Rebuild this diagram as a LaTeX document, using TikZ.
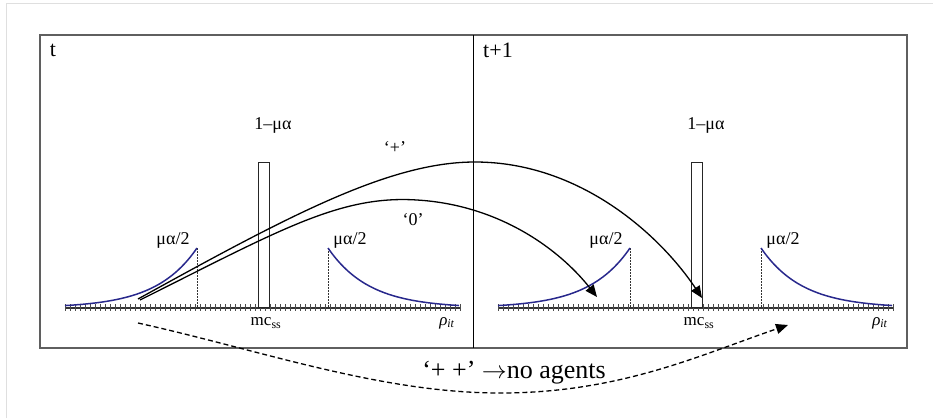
\documentclass[tikz,border=0pt]{standalone}
\usepackage{fontspec}
\setmainfont{Liberation Serif}
\usetikzlibrary{arrows.meta}
\definecolor{curveblue}{RGB}{40,40,140}
\definecolor{framegray}{RGB}{95,95,95}
\tikzset{
  framebox/.style={draw=framegray,line width=1.5pt},
  axisline/.style={draw=black!80,line width=1.4pt},
  tickmark/.style={draw=black!70,line width=0.7pt},
  distcurve/.style={draw=curveblue,line width=1.5pt},
  guide/.style={draw=black!80,line width=0.8pt,dash pattern=on 1.5pt off 1.5pt},
  barbox/.style={draw=black!85,line width=1pt,fill=white},
  flow/.style={draw=black,line width=1.3pt,-{Triangle[length=12pt,width=10pt]}},
  flowdash/.style={draw=black,line width=1.3pt,dash pattern=on 5pt off 3pt,-{Triangle[length=12pt,width=10pt]}},
  lbl/.style={font=\fontsize{18}{20}\selectfont,inner sep=0pt},
  tlbl/.style={font=\fontsize{22}{24}\selectfont,inner sep=0pt},
  axlbl/.style={font=\fontsize{17}{19}\selectfont,inner sep=0pt},
  biglbl/.style={font=\fontsize{26}{28}\selectfont,inner sep=0pt}
}
\begin{document}
\begin{tikzpicture}[x=1pt,y=-1pt]
\useasboundingbox (0,0) rectangle (933,418);
% faint outer border
\draw[gray!25,line width=1pt] (6,418) -- (6,3) -- (933,3);
% frame and divider
\draw[framebox] (40,35) rectangle (907,348);
\draw[black,line width=1pt] (473,35) -- (473,348);
\node[tlbl] (tl) at (53,50) {t};
\node[tlbl] (tr) at (498,50) {t+1};
% panels
\foreach \o/\p in {0/L,433/R}{
\begin{scope}[xshift=\o pt]
  \draw[axisline] (65,308) -- (461,308);
  \foreach \k in {0,...,79}{
    \draw[tickmark] ({65+5*\k},304) -- ({65+5*\k},311);
  }
  \draw[guide] (197,248) -- (197,308);
  \draw[guide] (328,248) -- (328,308);
  \draw[distcurve] plot[domain=65:197,samples=60,smooth] (\x,{308-60*exp(0.0243*(\x-197))});
  \draw[distcurve] plot[domain=328:459,samples=60,smooth] (\x,{308-60*exp(-0.0243*(\x-328))});
  \node[barbox,minimum width=11pt,minimum height=145pt,anchor=south,inner sep=0pt] (bar\p) at (263.5,308) {};
  \node[lbl] (top\p) at (273,125) {1–μα};
  \node[lbl] (ml\p) at (173,240) {μα/2};
  \node[lbl] (mr\p) at (350,240) {μα/2};
  \node[axlbl] (mc\p) at (266,323) {mc\textsubscript{ss}};
  \node[axlbl] (rho\p) at (447,323) {\textit{ρ}\textsubscript{\textit{it}}};
\end{scope}
}
% connectors
\coordinate (sp) at (138,299);
\coordinate (pp) at (475,162);
\coordinate (ep) at (702,298);
\coordinate (s0) at (140,300);
\coordinate (p0) at (417,200);
\coordinate (e0) at (597,297);
\coordinate (sd) at (138,323);
\coordinate (bd) at (500,393);
\coordinate (ed) at (788,325);
\draw[flow] (sp) .. controls (290,215) and (390,162) .. (pp) .. controls (580,162) and (660,235) .. (ep);
\draw[flow] (s0) .. controls (280,230) and (340,195) .. (p0) .. controls (500,205) and (560,250) .. (e0);
\draw[flowdash] (sd) .. controls (260,350) and (380,393) .. (bd) .. controls (620,393) and (700,355) .. (ed);
\node[lbl] (plus) at (395,148) {‘+’};
\node[lbl] (zero) at (413,220) {‘0’};
\node[biglbl,anchor=base] (noag) at (514,378) {‘+ +’ $\rightarrow$no agents};
\end{tikzpicture}
\end{document}
